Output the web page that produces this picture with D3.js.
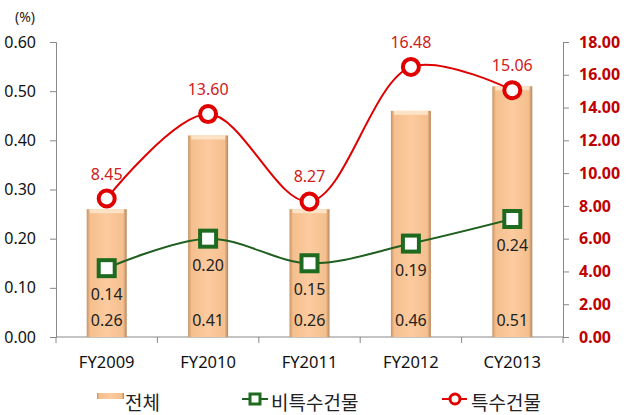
<!DOCTYPE html>
<html>
<head>
<meta charset="utf-8">
<script src="https://cdn.jsdelivr.net/npm/d3@7"></script>
<style>
  body { margin: 0; background: #fff; }
  text { font-family: "Noto Sans", "Noto Sans CJK KR", sans-serif; }
</style>
</head>
<body>
<div id="chart"></div>
<script>
// data
var categories = ['FY2009', 'FY2010', 'FY2011', 'FY2012', 'CY2013'];
var totalVals = [0.26, 0.41, 0.26, 0.46, 0.51];     // 전체 (left axis)
var nonSpecialVals = [0.14, 0.20, 0.15, 0.19, 0.24]; // 비특수건물 (left axis)
var specialVals = [8.45, 13.60, 8.27, 16.48, 15.06]; // 특수건물 (right axis)
var leftTicks = [0, 0.1, 0.2, 0.3, 0.4, 0.5, 0.6];
var rightTicks = [0, 2, 4, 6, 8, 10, 12, 14, 16, 18];

var svgWidth = 629, svgHeight = 415;
var margin = { top: 42, right: 66, bottom: 78, left: 56 };
var width = svgWidth - margin.left - margin.right;
var height = svgHeight - margin.top - margin.bottom;

var svg = d3.select('#chart').append('svg')
    .attr('width', svgWidth)
    .attr('height', svgHeight);

var defs = svg.append('defs');
var grad = defs.append('linearGradient').attr('id', 'barGrad')
    .attr('x1', 0).attr('x2', 1).attr('y1', 0).attr('y2', 0);
grad.append('stop').attr('offset', '0%').attr('stop-color', '#c99464');
grad.append('stop').attr('offset', '9%').attr('stop-color', '#f5bf8e');
grad.append('stop').attr('offset', '50%').attr('stop-color', '#fccb9f');
grad.append('stop').attr('offset', '91%').attr('stop-color', '#f5bf8e');
grad.append('stop').attr('offset', '100%').attr('stop-color', '#b8865a');

var g = svg.append('g')
    .attr('transform', 'translate(' + margin.left + ',' + margin.top + ')');

var x = d3.scaleBand().domain(categories).range([0, width]);
var yL = d3.scaleLinear().domain([0, 0.6]).range([height, 0]);
var yR = d3.scaleLinear().domain([0, 18]).range([height, 0]);

// axes
var axisColor = '#888';
var left = g.append('g')
    .style('color', axisColor)
    .call(d3.axisLeft(yL).tickValues(leftTicks).tickFormat(d3.format('.2f')).tickSize(6).tickPadding(14));
var right = g.append('g')
    .style('color', axisColor)
    .attr('transform', 'translate(' + width + ',0)')
    .call(d3.axisRight(yR).tickValues(rightTicks).tickFormat(d3.format('.2f')).tickSize(6).tickPadding(10));
[left, right].forEach(function (a) {
    a.select('.domain').style('stroke', axisColor);
    a.selectAll('.tick line').style('stroke', axisColor);
});
left.selectAll('text').attr('font-size', 16).style('fill', '#111');
right.selectAll('text').attr('font-size', 16).style('fill', '#c00000').attr('font-weight', 'bold');

var bottom = g.append('g').attr('transform', 'translate(0,' + height + ')');
bottom.append('line').attr('x1', 0).attr('x2', width).attr('stroke', axisColor);
bottom.selectAll('.tk').data(d3.range(categories.length + 1)).enter().append('line')
    .attr('x1', function (i) { return i * x.step(); })
    .attr('x2', function (i) { return i * x.step(); })
    .attr('y1', 0).attr('y2', 6).attr('stroke', axisColor);
bottom.selectAll('.cat').data(categories).enter().append('text')
    .attr('x', function (d) { return x(d) + x.bandwidth() / 2; })
    .attr('y', 31)
    .attr('text-anchor', 'middle')
    .attr('font-size', 16.5)
    .attr('fill', '#111')
    .text(function (d) { return d; });

svg.append('text').attr('x', 25).attr('y', 22).attr('text-anchor', 'middle')
    .attr('font-size', 14).attr('fill', '#222').text('(%)');

// bars
var barW = 40;
var bars = g.selectAll('.bar').data(totalVals).enter().append('g');
bars.append('rect')
    .attr('x', function (d, i) { return x(categories[i]) + x.bandwidth() / 2 - barW / 2; })
    .attr('y', function (d) { return yL(d); })
    .attr('width', barW)
    .attr('height', function (d) { return height - yL(d); })
    .attr('fill', 'url(#barGrad)');
bars.append('rect')
    .attr('x', function (d, i) { return x(categories[i]) + x.bandwidth() / 2 - barW / 2 + 3; })
    .attr('y', function (d) { return yL(d); })
    .attr('width', barW - 6)
    .attr('height', 4)
    .attr('fill', '#fde3c6');
bars.append('text')
    .attr('x', function (d, i) { return x(categories[i]) + x.bandwidth() / 2; })
    .attr('y', height - 11)
    .attr('text-anchor', 'middle')
    .attr('font-size', 16)
    .attr('fill', '#222')
    .text(function (d) { return d3.format('.2f')(d); });

// lines
var cx = function (i) { return x(categories[i]) + x.bandwidth() / 2; };
var lineL = d3.line().x(function (d, i) { return cx(i); }).y(function (d) { return yL(d); })
    .curve(d3.curveCatmullRom.alpha(0.5));
var lineR = d3.line().x(function (d, i) { return cx(i); }).y(function (d) { return yR(d); })
    .curve(d3.curveCatmullRom.alpha(0.5));

g.append('path').datum(nonSpecialVals).attr('d', lineL)
    .attr('fill', 'none').attr('stroke', '#1f5f1f').attr('stroke-width', 2);
g.append('path').datum(specialVals).attr('d', lineR)
    .attr('fill', 'none').attr('stroke', '#e00000').attr('stroke-width', 2);

g.selectAll('.sq').data(nonSpecialVals).enter().append('rect')
    .attr('x', function (d, i) { return cx(i) - 8; })
    .attr('y', function (d) { return yL(d) - 8; })
    .attr('width', 16).attr('height', 16)
    .attr('fill', '#fff').attr('stroke', '#1e6a1e').attr('stroke-width', 4);
g.selectAll('.sqlab').data(nonSpecialVals).enter().append('text')
    .attr('x', function (d, i) { return cx(i); })
    .attr('y', function (d) { return yL(d) + 32; })
    .attr('text-anchor', 'middle')
    .attr('font-size', 16).attr('fill', '#222')
    .text(function (d) { return d3.format('.2f')(d); });

g.selectAll('.ci').data(specialVals).enter().append('circle')
    .attr('cx', function (d, i) { return cx(i); })
    .attr('cy', function (d) { return yR(d); })
    .attr('r', 8)
    .attr('fill', '#fff').attr('stroke', '#e00000').attr('stroke-width', 4);
g.selectAll('.cilab').data(specialVals).enter().append('text')
    .attr('x', function (d, i) { return cx(i); })
    .attr('y', function (d) { return yR(d) - 19; })
    .attr('text-anchor', 'middle')
    .attr('font-size', 16).attr('fill', '#d02020')
    .text(function (d) { return d3.format('.2f')(d); });

// legend
var lg = svg.append('g').attr('transform', 'translate(0,403)');
lg.append('rect').attr('x', 97).attr('y', -10).attr('width', 27).attr('height', 6)
    .attr('fill', 'url(#barGrad)');
lg.append('text').attr('x', 125).attr('y', 7).attr('font-size', 19).attr('fill', '#222').text('전체');

lg.append('line').attr('x1', 242).attr('x2', 268).attr('y1', -4).attr('y2', -4)
    .attr('stroke', '#1f5f1f').attr('stroke-width', 2);
lg.append('rect').attr('x', 250).attr('y', -9).attr('width', 10).attr('height', 10)
    .attr('fill', '#fff').attr('stroke', '#1e6a1e').attr('stroke-width', 3);
lg.append('text').attr('x', 271).attr('y', 7).attr('font-size', 19).attr('fill', '#222').text('비특수건물');

lg.append('line').attr('x1', 442).attr('x2', 467).attr('y1', -4).attr('y2', -4)
    .attr('stroke', '#e00000').attr('stroke-width', 2);
lg.append('circle').attr('cx', 455).attr('cy', -4).attr('r', 5)
    .attr('fill', '#fff').attr('stroke', '#e00000').attr('stroke-width', 3);
lg.append('text').attr('x', 471).attr('y', 7).attr('font-size', 19).attr('fill', '#222').text('특수건물');
</script>
</body>
</html>
